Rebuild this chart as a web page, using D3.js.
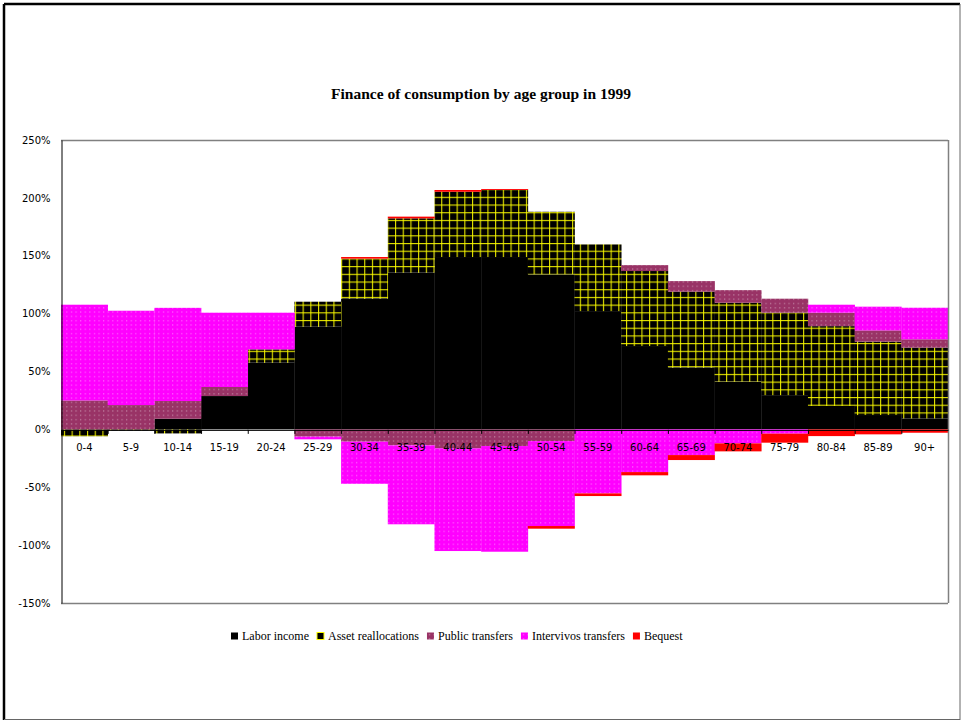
<!DOCTYPE html>
<html>
<head>
<meta charset="utf-8">
<script src="https://cdn.jsdelivr.net/npm/d3@7"></script>
<style>
  html, body { margin: 0; padding: 0; background: #fff; }
  svg { display: block; }
</style>
</head>
<body>
<svg id="chart" width="961" height="721"></svg>
<script>
// ---- DATA ----
const categories = ["0-4","5-9","10-14","15-19","20-24","25-29","30-34","35-39","40-44","45-49","50-54","55-59","60-64","65-69","70-74","75-79","80-84","85-89","90+"];
const seriesNames = ["Labor income","Asset reallocations","Public transfers","Intervivos transfers","Bequest"];
const laborIncome   = [0, 0, 9.2, 28.8, 57.6, 88.7, 112.9, 135.4, 148.9, 148.9, 133.9, 102.2, 72.0, 53.3, 41.2, 29.6, 20.2, 12.4, 9.5];
const assetRealloc  = [-6.0, -1.0, -3.5, 0, 11.5, 21.6, 34.6, 46.9, 56.4, 57.9, 54.1, 57.6, 64.8, 65.7, 68.2, 71.2, 69.0, 63.4, 61.1];
const publicTransf  = [25.0, 21.0, 15.3, 7.8, 0, -6.3, -10.6, -13.8, -16.4, -14.4, -10.1, 0, 5.1, 9.1, 10.9, 12.1, 11.6, 9.7, 7.2];
const intervivos    = [82.7, 81.5, 80.5, 64.2, 31.7, -2.3, -36.4, -68.2, -88.7, -91.3, -73.4, -55.3, -36.9, -22.2, -12.1, -3.7, 6.9, 20.5, 27.3];
const bequest       = [0, 0, 0, 0, 0, 0, 1.4, 1.5, 1.5, 0.8, -2.3, -2.3, -2.8, -4.3, -6.9, -7.8, -5.8, -4.3, -2.9];
const yTicks = [250, 200, 150, 100, 50, 0, -50, -100, -150];
const titleText = "Finance of consumption by age group in 1999";

// ---- BUILD TABLE ----
const seriesArrays = [laborIncome, assetRealloc, publicTransf, intervivos, bequest];
const table = categories.map((c, i) => {
  const row = { cat: c };
  seriesNames.forEach((s, k) => row[s] = seriesArrays[k][i]);
  return row;
});

const svg = d3.select("#chart");

// outer frame
svg.append("line").attr("x1", 4).attr("y1", 4).attr("x2", 960).attr("y2", 4).attr("stroke", "#000").attr("stroke-width", 2.5);
svg.append("line").attr("x1", 4).attr("y1", 4).attr("x2", 4).attr("y2", 720).attr("stroke", "#000").attr("stroke-width", 2.5);
svg.append("line").attr("x1", 960).attr("y1", 4).attr("x2", 960).attr("y2", 720).attr("stroke", "#666").attr("stroke-width", 1);
svg.append("line").attr("x1", 4).attr("y1", 719.5).attr("x2", 960).attr("y2", 719.5).attr("stroke", "#666").attr("stroke-width", 1);

// patterns
const defs = svg.append("defs");
const pa = defs.append("pattern").attr("id", "assetPat").attr("patternUnits", "userSpaceOnUse")
  .attr("width", 7.7).attr("height", 7.7).attr("x", 61).attr("y", 140);
pa.append("rect").attr("width", 7.7).attr("height", 7.7).attr("fill", "#000");
pa.append("rect").attr("x", 3).attr("y", 0).attr("width", 1).attr("height", 7.7).attr("fill", "#ffff00");
pa.append("rect").attr("x", 0).attr("y", 3).attr("width", 7.7).attr("height", 1).attr("fill", "#ffff00");

function dotPattern(id, color) {
  const p = defs.append("pattern").attr("id", id).attr("patternUnits", "userSpaceOnUse")
    .attr("width", 4.6).attr("height", 4.3);
  p.append("rect").attr("width", 4.6).attr("height", 4.3).attr("fill", color);
  p.append("rect").attr("x", 2).attr("y", 2).attr("width", 1).attr("height", 1).attr("fill", "#fff").attr("fill-opacity", 0.55);
}
dotPattern("publicPat", "#993366");
dotPattern("interPat", "#ff00ff");

const fills = {
  "Labor income": "#000000",
  "Asset reallocations": "url(#assetPat)",
  "Public transfers": "url(#publicPat)",
  "Intervivos transfers": "url(#interPat)",
  "Bequest": "#ff0000"
};

// scales
const plot = { left: 61, right: 948, top: 140, bottom: 603 };
const x = d3.scaleBand().domain(categories).range([plot.left, plot.right]).padding(0);
const y = d3.scaleLinear().domain([-150, 250]).range([plot.bottom, plot.top]);

// stack
const stack = d3.stack().keys(seriesNames).offset(d3.stackOffsetDiverging);
const stacked = stack(table);

const g = svg.append("g");
g.selectAll("g.series").data(stacked).join("g")
  .attr("class", "series")
  .attr("fill", d => fills[d.key])
  .selectAll("rect").data(d => d).join("rect")
  .attr("x", d => x(d.data.cat))
  .attr("width", x.bandwidth() + 0.3)
  .attr("y", d => y(Math.max(d[0], d[1])))
  .attr("height", d => Math.abs(y(d[0]) - y(d[1])));

// plot border (top, right, bottom gray)
svg.append("line").attr("x1", plot.left).attr("x2", plot.right).attr("y1", plot.top + 0.5).attr("y2", plot.top + 0.5).attr("stroke", "#808080").attr("stroke-width", 1.5);
svg.append("line").attr("x1", plot.right + 0.5).attr("x2", plot.right + 0.5).attr("y1", plot.top).attr("y2", plot.bottom).attr("stroke", "#808080").attr("stroke-width", 1.5);
svg.append("line").attr("x1", plot.left).attr("x2", plot.right).attr("y1", plot.bottom + 0.5).attr("y2", plot.bottom + 0.5).attr("stroke", "#808080").attr("stroke-width", 1.5);

// y axis
const yAxis = d3.axisLeft(y).tickValues(yTicks).tickSize(0).tickPadding(11).tickFormat(d => d + "%");
const ya = svg.append("g").attr("transform", `translate(${plot.left + 0.5},0)`).call(yAxis);
ya.select(".domain").attr("stroke", "#000").attr("stroke-width", 1);
ya.selectAll("text").attr("font-family", "DejaVu Sans, Verdana, sans-serif").attr("font-size", 10).attr("fill", "#000");

// x axis at zero
const xAxis = d3.axisBottom(x).tickSize(0).tickPadding(14);
const xa = svg.append("g").attr("transform", `translate(0,${y(0) + 0.5})`).call(xAxis);
xa.select(".domain").attr("stroke", "#000").attr("stroke-width", 1);
xa.selectAll("text").attr("font-family", "DejaVu Sans, Verdana, sans-serif").attr("font-size", 10).attr("fill", "#000");
// boundary tick marks
const bounds = categories.slice(1).map(c => x(c));
xa.selectAll("line.bt").data(bounds).join("line").attr("class", "bt")
  .attr("x1", d => d + 0.5).attr("x2", d => d + 0.5).attr("y1", 0).attr("y2", 4)
  .attr("stroke", "#000").attr("stroke-width", 1);

// title
svg.append("text").attr("x", 481).attr("y", 99).attr("text-anchor", "middle")
  .attr("font-family", "Liberation Serif, DejaVu Serif, serif").attr("font-weight", "bold").attr("font-size", 15.5)
  .text(titleText);

// legend
const legend = svg.append("g").attr("transform", "translate(231,0)");
let lx = 0;
seriesNames.forEach((s) => {
  const item = legend.append("g").attr("transform", `translate(${lx},0)`);
  item.append("rect").attr("x", 0).attr("y", 632.5).attr("width", 7).attr("height", 7)
    .attr("fill", fills[s] === "url(#assetPat)" ? "#000" : fills[s])
    .attr("stroke", s === "Asset reallocations" ? "#ffff00" : "none").attr("stroke-width", 1);
  const t = item.append("text").attr("x", 11).attr("y", 640)
    .attr("font-family", "Liberation Serif, DejaVu Serif, serif").attr("font-size", 12).attr("fill", "#000")
    .text(s);
  lx += 11 + t.node().getComputedTextLength() + 8;
});
</script>
</body>
</html>
